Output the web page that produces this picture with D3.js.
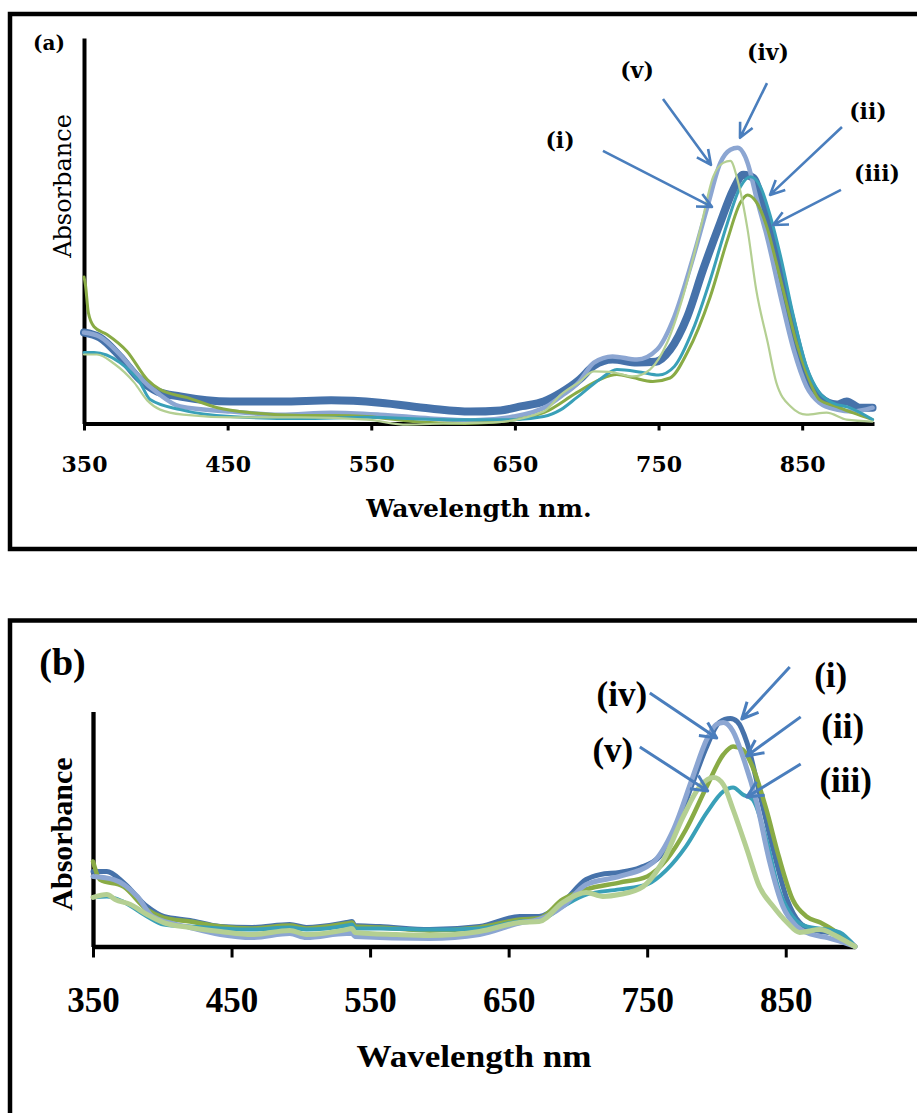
<!DOCTYPE html>
<html>
<head>
<meta charset="utf-8">
<script src="https://cdn.jsdelivr.net/npm/d3@7"></script>
<style>
  body { margin: 0; background: #fff; }
</style>
</head>
<body>
<div id="chart-area"></div>
<script>

// tick labels (nm) shared by both panels
let tickValues = [350, 450, 550, 650, 750, 850];
let seriesNames = ["(i)", "(ii)", "(iii)", "(iv)", "(v)"];

// ---- panel (a) spectra : [wavelength nm, absorbance (arb.)] ----
let a_i = [[350,.236],[361,.223],[375,.174],[389,.114],[401,.083],[417,.070],[452,.057],[487,.057],[522,.060],[556,.054],[591,.039],[619,.031],[640,.034],[655,.045],[670,.057],[682,.080],[695,.114],[705,.150],[718,.166],[735,.158],[748,.160],[758,.191],[770,.277],[781,.399],[793,.521],[802,.606],[809,.645],[816,.637],[823,.562],[832,.433],[842,.277],[851,.148],[862,.070],[874,.049],[881,.057],[890,.041],[899,.041]];
let a_ii = [[350,.38],[351,.36],[353,.288],[357,.251],[366,.231],[380,.187],[394,.114],[403,.088],[422,.067],[443,.041],[466,.028],[501,.021],[524,.021],[547,.018],[579,.005],[615,.0],[635,.003],[670,.028],[693,.080],[709,.114],[721,.127],[732,.119],[746,.109],[758,.118],[770,.184],[786,.329],[798,.477],[807,.573],[812,.593],[818,.575],[826,.503],[832,.417],[839,.313],[846,.210],[853,.132],[862,.062],[874,.044],[885,.028],[899,.010]];
let a_iii = [[350,.184],[357,.184],[375,.158],[389,.106],[396,.062],[417,.036],[452,.018],[501,.013],[547,.016],[603,.010],[649,.010],[670,.018],[682,.036],[693,.067],[709,.114],[721,.140],[738,.133],[750,.126],[761,.148],[774,.244],[786,.373],[798,.521],[807,.614],[814,.640],[821,.614],[828,.536],[835,.433],[844,.277],[853,.148],[862,.080],[871,.054],[883,.041],[899,.010]];
let a_iv = [[350,.236],[361,.225],[375,.179],[389,.119],[401,.080],[417,.044],[452,.031],[487,.023],[522,.028],[556,.023],[591,.013],[619,.008],[649,.018],[672,.044],[682,.070],[695,.109],[705,.158],[718,.174],[735,.166],[749,.192],[761,.277],[773,.417],[784,.562],[793,.676],[800,.710],[805,.715],[812,.676],[818,.588],[826,.477],[835,.329],[844,.192],[853,.096],[862,.054],[874,.036],[885,.031],[899,.041]];
let a_v = [[350,.179],[359,.179],[371,.155],[385,.106],[394,.060],[403,.036],[419,.023],[454,.016],[501,.016],[547,.010],[575,-.003],[600,.0],[635,.003],[670,.031],[682,.075],[695,.108],[705,.135],[716,.134],[732,.122],[744,.140],[756,.210],[767,.329],[779,.503],[788,.640],[795,.676],[800,.681],[805,.632],[812,.503],[818,.347],[826,.210],[832,.106],[842,.044],[853,.023],[867,.028],[881,.010],[899,.005]];

// ---- panel (b) spectra ----
let b_i = [[350,.319],[360,.319],[372,.272],[389,.170],[401,.128],[420,.111],[442,.085],[465,.081],[492,.094],[504,.081],[533,.102],[537,.106],[539,.089],[557,.085],[593,.072],[629,.085],[658,.128],[672,.128],[689,.187],[706,.285],[716,.306],[730,.315],[745,.336],[759,.383],[771,.511],[783,.698],[793,.851],[802,.953],[810,.970],[815,.957],[822,.868],[831,.655],[841,.413],[851,.200],[860,.102],[869,.072],[880,.060],[889,.051],[900,.0]];
let b_ii = [[350,.362],[355,.285],[372,.255],[389,.157],[401,.123],[420,.106],[442,.085],[465,.077],[492,.089],[504,.077],[533,.098],[537,.102],[539,.085],[557,.081],[593,.068],[629,.081],[658,.115],[672,.120],[689,.200],[706,.243],[730,.272],[750,.298],[764,.370],[778,.498],[793,.681],[805,.817],[812,.851],[819,.838],[826,.766],[836,.583],[845,.383],[855,.200],[865,.128],[875,.102],[887,.060],[900,.0]];
let b_iii = [[350,.209],[360,.213],[372,.190],[389,.128],[401,.094],[420,.085],[442,.077],[465,.072],[492,.081],[504,.072],[533,.089],[537,.094],[539,.077],[557,.077],[593,.072],[629,.077],[658,.106],[672,.111],[689,.170],[706,.221],[730,.243],[750,.264],[764,.326],[778,.426],[793,.570],[805,.660],[812,.677],[819,.647],[826,.626],[836,.455],[845,.243],[855,.128],[865,.085],[880,.072],[889,.060],[900,.0]];
let b_iv = [[350,.298],[365,.285],[382,.213],[393,.128],[420,.081],[442,.051],[465,.038],[492,.055],[504,.038],[533,.055],[537,.055],[539,.043],[593,.034],[629,.051],[658,.100],[672,.115],[689,.170],[706,.264],[730,.298],[754,.357],[769,.498],[783,.723],[793,.881],[800,.945],[805,.953],[812,.915],[819,.809],[829,.613],[838,.370],[848,.170],[858,.085],[869,.051],[880,.038],[900,.0]];
let b_v = [[350,.209],[360,.221],[366,.200],[377,.179],[389,.136],[401,.102],[420,.081],[442,.064],[465,.051],[492,.068],[504,.051],[533,.072],[537,.077],[539,.060],[569,.051],[593,.047],[629,.064],[658,.102],[672,.106],[689,.187],[706,.230],[718,.213],[730,.221],[747,.255],[762,.370],[776,.553],[788,.681],[798,.719],[805,.689],[812,.583],[822,.413],[831,.255],[841,.170],[851,.102],[860,.060],[875,.072],[887,.043],[900,.0]];

// arrow annotations : tail, tip and label position, in data units
let notesA = [
	{t: "(iv)", from: [825.5, .883], to: [806.7, .741], at: [826.2, .961]},
	{t: "(v)", from: [753.1, .842], to: [786.5, .671], at: [735.0, .914]},
	{t: "(ii)", from: [877.7, .769], to: [827.6, .593], at: [895.8, .808]},
	{t: "(i)", from: [711.3, .707], to: [787.2, .562], at: [681.4, .733]},
	{t: "(iii)", from: [877.0, .606], to: [829.7, .515], at: [902.1, .645]}
];
let notesB = [
	{t: "(i)", from: [852.9, 1.189], to: [818.3, .968], at: [882.5, 1.147]},
	{t: "(iv)", from: [751.9, 1.079], to: [800.2, .887], at: [731.7, 1.070]},
	{t: "(ii)", from: [860.8, .977], to: [821.9, .811], at: [891.1, .930]},
	{t: "(v)", from: [744.7, .849], to: [793.7, .662], at: [725.2, .828]},
	{t: "(iii)", from: [860.8, .777], to: [821.9, .636], at: [893.3, .704]}
];

let colors = {i: "#4672aa", ii: "#89ab45", iii: "#39a0b8", iv: "#8ca6d2", v: "#b4cf92"};
let arrowColor = "#4a7ebd";

let svg = d3.select("#chart-area").append("svg")
	.attr("width", 917)
	.attr("height", 1113);

// frames round each panel (they run off the right / bottom edge)
svg.append("rect").attr("x", 10).attr("y", 14).attr("width", 1000).attr("height", 535)
	.attr("fill", "none").attr("stroke", "#000").attr("stroke-width", 4.5);
svg.append("rect").attr("x", 10).attr("y", 620.5).attr("width", 1000).attr("height", 700)
	.attr("fill", "none").attr("stroke", "#000").attr("stroke-width", 4.5);

function drawPanel(p) {
	let g = svg.append("g");

	// scales
	let x = d3.scaleLinear().domain([350, 900]).range([p.x0, p.x1]);
	let y = d3.scaleLinear().domain([0, 1]).range([p.yBottom, p.yTop]);

	// x axis
	let xAxis = d3.axisBottom(x).tickValues(tickValues).tickSize(p.tickLen).tickSizeOuter(0);
	let xg = g.append("g")
		.attr("transform", `translate(0, ${p.yBottom})`)
		.call(xAxis);
	xg.select(".domain").attr("stroke-width", p.axisW);
	xg.selectAll(".tick line").attr("stroke-width", 3);
	xg.selectAll(".tick text")
		.attr("y", p.tickTextY).attr("dy", 0)
		.attr("fill", "#000")
		.style("font-family", p.tickFont)
		.style("font-weight", "bold")
		.style("font-size", p.tickSize + "px");

	// y axis: just the line, no ticks
	let yg = g.append("g")
		.attr("transform", `translate(${p.x0}, 0)`)
		.call(d3.axisLeft(y).tickValues([]).tickSizeOuter(0));
	yg.select(".domain").attr("stroke-width", p.axisW);

	// spectra
	let line = d3.line()
		.x(d => x(d[0]))
		.y(d => y(d[1]))
		.curve(d3.curveMonotoneX);

	p.series.forEach(s => {
		g.append("path")
			.datum(s.data)
			.attr("d", line)
			.attr("fill", "none")
			.attr("stroke", s.color)
			.attr("stroke-width", s.w)
			.attr("stroke-linejoin", "round")
			.attr("stroke-linecap", "round");
	});

	// arrows + labels
	p.notes.forEach(n => {
		let x1 = x(n.from[0]), y1 = y(n.from[1]);
		let x2 = x(n.to[0]), y2 = y(n.to[1]);
		let ang = Math.atan2(y2 - y1, x2 - x1);
		let L = p.headLen, phi = 0.45;
		let path = `M${x1},${y1}L${x2},${y2}` +
			`M${x2 - L * Math.cos(ang - phi)},${y2 - L * Math.sin(ang - phi)}L${x2},${y2}` +
			`L${x2 - L * Math.cos(ang + phi)},${y2 - L * Math.sin(ang + phi)}`;
		g.append("path")
			.attr("d", path)
			.attr("fill", "none")
			.attr("stroke", arrowColor)
			.attr("stroke-width", p.arrowW)
			.attr("stroke-linejoin", "round");

		g.append("text")
			.attr("x", x(n.at[0]))
			.attr("y", y(n.at[1]))
			.attr("dy", "0.3em")
			.attr("text-anchor", "middle")
			.style("font-family", p.noteFont)
			.style("font-weight", "bold")
			.style("font-size", p.noteSize + "px")
			.text(n.t);
	});

	// axis titles
	let xt = g.append("text")
		.attr("x", (p.x0 + p.x1) / 2)
		.attr("y", p.xTitleY)
		.attr("text-anchor", "middle")
		.style("font-family", p.titleFont)
		.style("font-weight", "bold")
		.style("font-size", p.xTitleSize + "px")
		.text(p.xTitle);
	if (p.xTitleLen) xt.attr("textLength", p.xTitleLen).attr("lengthAdjust", "spacingAndGlyphs");

	g.append("text")
		.attr("transform", `translate(${p.yTitleX}, ${p.yTitleY}) rotate(-90)`)
		.attr("text-anchor", "middle")
		.style("font-family", p.titleFont)
		.style("font-weight", p.yTitleWeight)
		.style("font-size", p.yTitleSize + "px")
		.text("Absorbance");

	// panel letter
	g.append("text")
		.attr("x", p.letterX).attr("y", p.letterY)
		.attr("text-anchor", "middle")
		.style("font-family", p.titleFont)
		.style("font-weight", "bold")
		.style("font-size", p.letterSize + "px")
		.text(p.letter);
}

drawPanel({
	x0: 84, x1: 874, yBottom: 423.5, yTop: 38,
	axisW: 4, tickLen: 7, tickTextY: 48.5,
	tickFont: "DejaVu Serif", tickSize: 22,
	noteFont: "DejaVu Serif", noteSize: 22, headLen: 16, arrowW: 2.6,
	titleFont: "DejaVu Serif",
	xTitle: "Wavelength nm.", xTitleY: 517, xTitleSize: 25,
	yTitleX: 71, yTitleY: 186, yTitleSize: 24, yTitleWeight: "normal",
	letter: "(a)", letterX: 49, letterY: 50, letterSize: 20,
	series: [
		{data: a_i, color: colors.i, w: 8},
		{data: a_iv, color: colors.iv, w: 4.5},
		{data: a_ii, color: colors.ii, w: 3},
		{data: a_iii, color: colors.iii, w: 3},
		{data: a_v, color: colors.v, w: 2.2}
	],
	notes: notesA
});

drawPanel({
	x0: 93, x1: 855, yBottom: 946.5, yTop: 711.5,
	axisW: 4.3, tickLen: 11, tickTextY: 65.5,
	tickFont: "Liberation Serif", tickSize: 35,
	noteFont: "Liberation Serif", noteSize: 35, headLen: 18, arrowW: 3,
	titleFont: "Liberation Serif",
	xTitle: "Wavelength nm", xTitleY: 1066.5, xTitleSize: 31, xTitleLen: 235,
	yTitleX: 72, yTitleY: 834, yTitleSize: 30, yTitleWeight: "bold",
	letter: "(b)", letterX: 62.5, letterY: 675, letterSize: 38,
	series: [
		{data: b_i, color: colors.i, w: 5},
		{data: b_ii, color: colors.ii, w: 4.5},
		{data: b_iii, color: colors.iii, w: 4},
		{data: b_iv, color: colors.iv, w: 5},
		{data: b_v, color: colors.v, w: 5}
	],
	notes: notesB
});

</script>
</body>
</html>
